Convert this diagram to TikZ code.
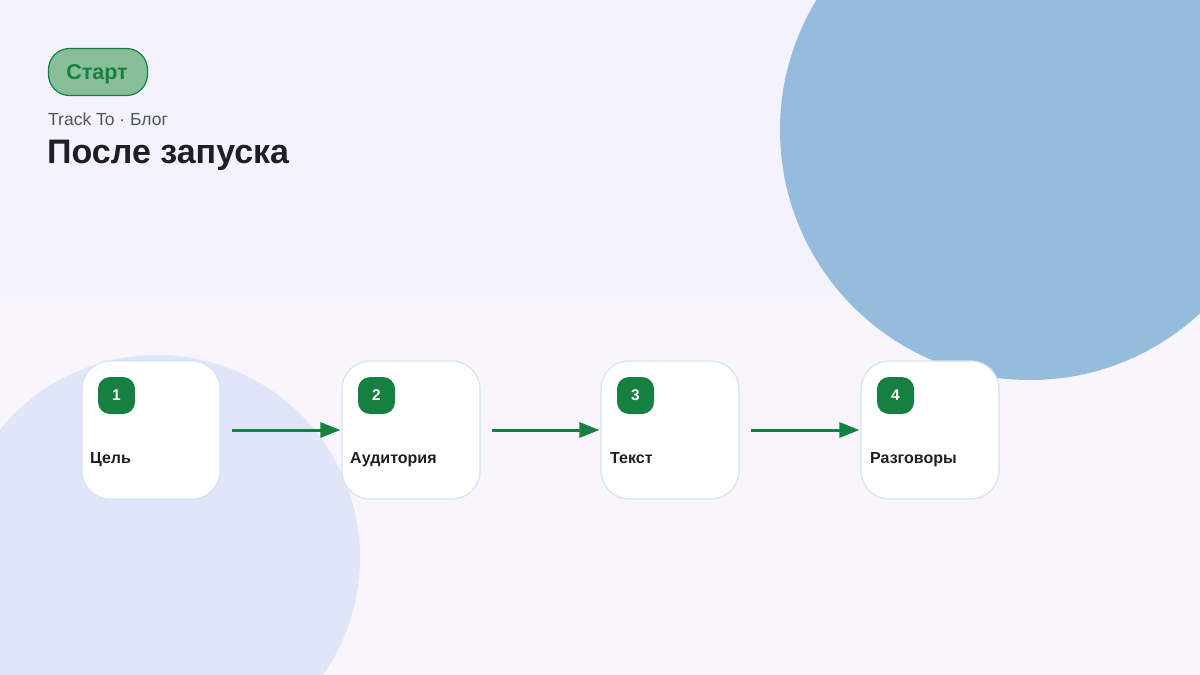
\documentclass[tikz,border=0pt]{standalone}
\usepackage{fontspec}
\setmainfont{Liberation Sans}
\usetikzlibrary{arrows.meta}
\definecolor{bgtop}{HTML}{F4F2FD}
\definecolor{bgbot}{HTML}{F8F6FC}
\definecolor{blobblue}{HTML}{96BCDD}
\definecolor{bloblav}{HTML}{E0E5F7}
\definecolor{cardline}{HTML}{D6E4F0}
\definecolor{gr}{HTML}{168040}
\definecolor{pillfill}{HTML}{88BE98}
\definecolor{subgray}{HTML}{4A5568}
\definecolor{titleink}{HTML}{1E1E24}
\tikzset{
  card/.style={draw=cardline, line width=1.2pt, fill=white, rounded corners=28pt, minimum width=138pt, minimum height=138pt, inner sep=0pt},
  badge/.style={fill=gr, rounded corners=12pt, minimum width=37pt, minimum height=37pt, inner sep=0pt, text=white, font=\fontsize{15.5}{18}\selectfont\bfseries},
  lbl/.style={anchor=base west, inner sep=0pt, text=titleink, font=\fontsize{16}{19}\selectfont\bfseries},
  arr/.style={draw=gr, line width=3pt, -{Triangle[length=20pt,width=15pt]}},
}
\begin{document}
\begin{tikzpicture}[x=1pt,y=-1pt]
\useasboundingbox (0,0) rectangle (1200,675);
\fill[bgbot] (0,0) rectangle (1200,675);
\fill[bgtop] (0,0) rectangle (1200,296);
\fill[blobblue] (1030,130) circle (250);
\fill[bloblav] (157,558) circle (203);
% header
\node[draw=gr, line width=1.2pt, fill=pillfill, rounded corners=21pt, minimum width=99pt, minimum height=47pt, inner sep=0pt] (start) at (98,72) {};
\node[anchor=base, inner sep=0pt, text=gr, font=\fontsize{21.5}{24}\selectfont\bfseries] (starttext) at (97,79) {Старт};
\node[anchor=base west, inner sep=0pt, text=subgray, font=\fontsize{17.5}{20}\selectfont] (sub) at (48,125) {Track To · Блог};
\node[anchor=base west, inner sep=0pt, text=titleink, font=\fontsize{34}{40}\selectfont\bfseries] (title) at (47,163) {После запуска};
% cards
\node[card] (c1) at (151,430) {};
\node[card] (c2) at (411,430) {};
\node[card] (c3) at (670,430) {};
\node[card] (c4) at (930,430) {};
\node[badge] (b1) at (116.5,395.5) {1};
\node[badge] (b2) at (376.5,395.5) {2};
\node[badge] (b3) at (635.5,395.5) {3};
\node[badge] (b4) at (895.5,395.5) {4};
\node[lbl] (l1) at (90,463) {Цель};
\node[lbl] (l2) at (350,463) {Аудитория};
\node[lbl] (l3) at (610,463) {Текст};
\node[lbl] (l4) at (870,463) {Разговоры};
\draw[arr] ([xshift=11pt]c1.east) -- ([xshift=-1pt]c2.west);
\draw[arr] ([xshift=11pt]c2.east) -- ([xshift=-1pt]c3.west);
\draw[arr] ([xshift=11pt]c3.east) -- ([xshift=-1pt]c4.west);
\end{tikzpicture}
\end{document}
